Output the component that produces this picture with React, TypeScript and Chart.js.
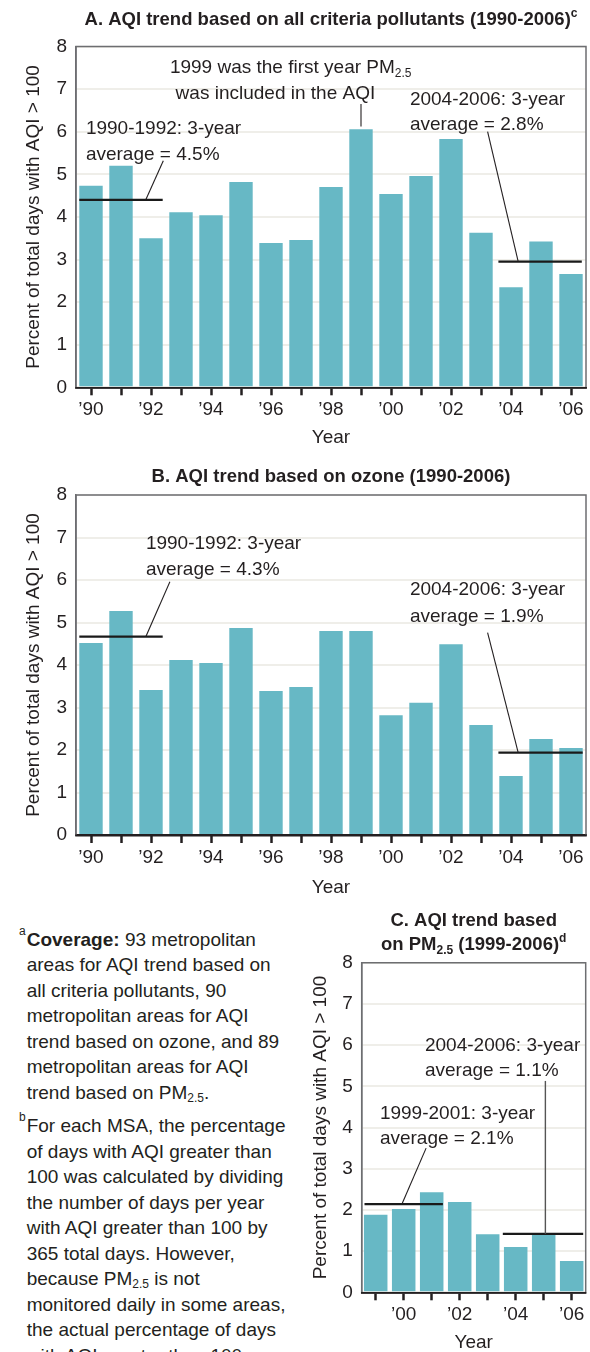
import React, { useEffect, useRef } from 'react';
import { Chart, registerables } from 'chart.js';

Chart.register(...registerables);

const FAMILY = "'Liberation Sans', Arial, Helvetica, sans-serif";
const TEXT = '#231f20';
const BAR = '#67b8c5';
const GRID = '#efeee9';
const FRAME = '#6d6e71';
const FS = 19;
const LS = 0;
const TFS = 18.5;
const TLS = 0;

// ---------- Chart A: all criteria pollutants ----------
const yearsA = ['1990', '1991', '1992', '1993', '1994', '1995', '1996', '1997', '1998', '1999', '2000', '2001', '2002', '2003', '2004', '2005', '2006'];
const xTicksA = ['’90', '', '’92', '', '’94', '', '’96', '', '’98', '', '’00', '', '’02', '', '’04', '', '’06'];
const valuesA = [4.73, 5.2, 3.5, 4.11, 4.04, 4.82, 3.39, 3.46, 4.7, 6.06, 4.54, 4.96, 5.83, 3.63, 2.35, 3.42, 2.66];
const avgA = [
  { from: -0.39, to: 2.39, value: 4.4 },
  { from: 13.58, to: 16.36, value: 2.95 },
];
const textsA = [
  { s: '1990-1992: 3-year', x: -0.17, y: 6.06 },
  { s: 'average = 4.5%', x: -0.17, y: 5.47 },
  { s: '1999 was the first year PM_{2.5}', x: 2.63, y: 7.49 },
  { s: 'was included in the AQI', x: 2.82, y: 6.9 },
  { s: '2004-2006: 3-year', x: 10.63, y: 6.76 },
  { s: 'average = 2.8%', x: 10.63, y: 6.16 },
];
const leadersA = [
  { x1: 2.41, y1: 5.32, x2: 1.83, y2: 4.41 },
  { x1: 9, y1: 6.65, x2: 9, y2: 6.12 },
  { x1: 13.22, y1: 6.0, x2: 14.24, y2: 2.95 },
];
const titleA = 'A. AQI trend based on all criteria pollutants (1990-2006)^{c}';

// ---------- Chart B: ozone ----------
const valuesB = [4.52, 5.27, 3.41, 4.12, 4.05, 4.87, 3.39, 3.48, 4.8, 4.8, 2.82, 3.11, 4.49, 2.59, 1.39, 2.26, 2.05];
const avgB = [
  { from: -0.39, to: 2.39, value: 4.67 },
  { from: 13.58, to: 16.39, value: 1.94 },
];
const textsB = [
  { s: '1990-1992: 3-year', x: 1.83, y: 6.86 },
  { s: 'average = 4.3%', x: 1.83, y: 6.25 },
  { s: '2004-2006: 3-year', x: 10.63, y: 5.76 },
  { s: 'average = 1.9%', x: 10.63, y: 5.14 },
];
const leadersB = [
  { x1: 2.63, y1: 5.96, x2: 1.83, y2: 4.67 },
  { x1: 13.22, y1: 4.76, x2: 14.24, y2: 1.94 },
];
const titleB = 'B. AQI trend based on ozone (1990-2006)';

// ---------- Chart C: PM2.5 ----------
const yearsC = ['1999', '2000', '2001', '2002', '2003', '2004', '2005', '2006'];
const xTicksC = ['', '’00', '', '’02', '', '’04', '', '’06'];
const valuesC = [1.88, 2.02, 2.43, 2.19, 1.41, 1.1, 1.41, 0.76];
const avgC = [
  { from: -0.4, to: 2.4, value: 2.14 },
  { from: 4.54, to: 7.41, value: 1.42 },
];
const textsC = [
  { s: '2004-2006: 3-year', x: 1.76, y: 5.99 },
  { s: 'average = 1.1%', x: 1.76, y: 5.38 },
  { s: '1999-2001: 3-year', x: 0.15, y: 4.34 },
  { s: 'average = 2.1%', x: 0.15, y: 3.72 },
];
const leadersC = [
  { x1: 1.8, y1: 3.5, x2: 0.95, y2: 2.16 },
  { x1: 6.06, y1: 5.13, x2: 6.06, y2: 1.42, color: '#555555', width: 1.4 },
];
const titleC1 = 'C. AQI trend based';
const titleC2 = 'on PM_{2.5} (1999-2006)^{d}';

const Y_TITLE = 'Percent of total days with AQI > 100';
const X_TITLE = 'Year';

// ---------- footnotes ----------
const noteA = [
  '**Coverage:** 93 metropolitan',
  'areas for AQI trend based on',
  'all criteria pollutants, 90',
  'metropolitan areas for AQI',
  'trend based on ozone, and 89',
  'metropolitan areas for AQI',
  'trend based on PM_{2.5}.',
];
const noteB = [
  'For each MSA, the percentage',
  'of days with AQI greater than',
  '100 was calculated by dividing',
  'the number of days per year',
  'with AQI greater than 100 by',
  '365 total days. However,',
  'because PM_{2.5} is not',
  'monitored daily in some areas,',
  'the actual percentage of days',
  'with AQI greater than 100',
];

type Seg = { t: string; k: string };
function parseRich(s: string): Seg[] {
  const out: Seg[] = [];
  const re = /([_^])\{([^}]*)\}/g;
  let last = 0;
  let m: RegExpExecArray | null;
  while ((m = re.exec(s))) {
    if (m.index > last) out.push({ t: s.slice(last, m.index), k: '' });
    out.push({ t: m[2], k: m[1] });
    last = re.lastIndex;
  }
  if (last < s.length) out.push({ t: s.slice(last), k: '' });
  return out;
}

function drawRich(ctx: any, s: string, x: number, y: number, align: string, size: number, bold: boolean, ls: number) {
  const segs = parseRich(s);
  const fontFor = (k: string) => `${bold ? 'bold ' : ''}${k ? Math.round(size * 0.64) : size}px ${FAMILY}`;
  ctx.letterSpacing = ls + 'px';
  let w = 0;
  const ws = segs.map((sg) => {
    ctx.font = fontFor(sg.k);
    const m = ctx.measureText(sg.t).width;
    w += m;
    return m;
  });
  let cx = align === 'center' ? x - w / 2 : align === 'right' ? x - w : x;
  ctx.textAlign = 'left';
  ctx.textBaseline = 'middle';
  ctx.fillStyle = TEXT;
  segs.forEach((sg, i) => {
    ctx.font = fontFor(sg.k);
    const dy = sg.k === '_' ? size * 0.3 : sg.k === '^' ? -size * 0.33 : 0;
    ctx.fillText(sg.t, cx, y + dy);
    cx += ws[i];
  });
}

function overlay(ann: any) {
  return {
    id: 'overlay',
    beforeDraw(chart: any) {
      chart.ctx.letterSpacing = LS + 'px';
    },
    afterDatasetsDraw(chart: any) {
      const { ctx, chartArea: a } = chart;
      const xs = chart.scales.x;
      const ys = chart.scales.y;
      ctx.save();
      // frame
      ctx.lineWidth = 1.5;
      ctx.strokeStyle = FRAME;
      ctx.beginPath();
      ctx.moveTo(a.left, a.bottom);
      ctx.lineTo(a.left, a.top);
      ctx.lineTo(a.right, a.top);
      ctx.lineTo(a.right, a.bottom);
      ctx.stroke();
      ctx.strokeStyle = TEXT;
      ctx.lineWidth = 1.8;
      ctx.beginPath();
      ctx.moveTo(a.left - 0.75, a.bottom + 0.5);
      ctx.lineTo(a.right + 0.75, a.bottom + 0.5);
      ctx.stroke();
      // average lines
      ctx.strokeStyle = '#1a1a1a';
      ctx.lineWidth = 2.2;
      ann.avgs.forEach((g: any) => {
        const py = ys.getPixelForValue(g.value);
        ctx.beginPath();
        ctx.moveTo(xs.getPixelForValue(g.from), py);
        ctx.lineTo(xs.getPixelForValue(g.to), py);
        ctx.stroke();
      });
      // leader lines
      ann.leaders.forEach((l: any) => {
        ctx.strokeStyle = l.color || '#231f20';
        ctx.lineWidth = l.width || 1.1;
        ctx.beginPath();
        ctx.moveTo(xs.getPixelForValue(l.x1), ys.getPixelForValue(l.y1));
        ctx.lineTo(xs.getPixelForValue(l.x2), ys.getPixelForValue(l.y2));
        ctx.stroke();
      });
      // annotation texts
      ann.texts.forEach((t: any) => {
        drawRich(ctx, t.s, xs.getPixelForValue(t.x), ys.getPixelForValue(t.y), 'left', FS, false, LS);
      });
      // titles
      const cx = (a.left + a.right) / 2;
      ann.titles.forEach((t: any) => drawRich(ctx, t.s, cx, t.y, 'center', TFS, true, TLS));
      ctx.restore();
      ctx.letterSpacing = LS + 'px';
    },
  };
}

function makeConfig(p: any): any {
  const font = { family: FAMILY, size: FS };
  return {
    type: 'bar',
    data: {
      labels: p.labels,
      datasets: [
        {
          data: p.values,
          backgroundColor: BAR,
          borderWidth: 0,
          barPercentage: p.barPct,
          categoryPercentage: 1,
        },
      ],
    },
    options: {
      responsive: false,
      animation: false,
      devicePixelRatio: 1,
      events: [],
      layout: { padding: { top: p.padTop, right: p.padRight, bottom: 0, left: 0 } },
      plugins: { legend: { display: false }, tooltip: { enabled: false }, title: { display: false } },
      scales: {
        x: {
          type: 'category',
          offset: true,
          grid: { offset: false, drawOnChartArea: false, drawTicks: true, tickLength: 8, tickWidth: 2.5, tickColor: TEXT },
          border: { display: true, color: TEXT, width: 1.5 },
          ticks: {
            autoSkip: false,
            maxRotation: 0,
            minRotation: 0,
            padding: 3.3,
            color: TEXT,
            font,
            callback: (_v: any, i: number) => p.ticks[i],
          },
          title: { display: true, text: X_TITLE, color: TEXT, font, padding: { top: 0, bottom: p.xTitlePad } },
          afterFit: (s: any) => {
            s.height = p.xHeight;
          },
        },
        y: {
          min: 0,
          max: 8,
          ticks: { stepSize: 1, padding: 9, color: TEXT, font },
          grid: { color: GRID, lineWidth: 2, drawTicks: false },
          border: { display: true, color: FRAME, width: 1.5 },
          title: { display: true, text: Y_TITLE, color: TEXT, font, padding: { top: p.yTitlePad, bottom: 0 } },
          afterFit: (s: any) => {
            s.width = p.yWidth;
          },
        },
      },
    },
    plugins: [overlay(p.ann)],
  };
}

function RichLine({ s }: { s: string }) {
  const parts = s.split(/(\*\*[^*]+\*\*|_\{[^}]+\})/).filter(Boolean);
  return (
    <div style={{ whiteSpace: 'nowrap', height: 25.5 }}>
      {parts.map((q, i) =>
        q.startsWith('**') ? (
          <b key={i}>{q.slice(2, -2)}</b>
        ) : q.startsWith('_{') ? (
          <span key={i} style={{ fontSize: 12, lineHeight: '0px', position: 'relative', top: 3 }}>
            {q.slice(2, -1)}
          </span>
        ) : (
          <span key={i}>{q}</span>
        )
      )}
    </div>
  );
}

function Note({ mark, lines, top }: { mark: string; lines: string[]; top: number }) {
  return (
    <div
      style={{
        position: 'absolute',
        left: 26.7,
        top,
        fontFamily: FAMILY,
        fontSize: FS,
        lineHeight: '25.5px',
        letterSpacing: LS + 'px',
        color: TEXT,
      }}
    >
      <span style={{ position: 'absolute', left: -7.7, top: -2, fontSize: 12, lineHeight: '12px', letterSpacing: 0 }}>{mark}</span>
      {lines.map((l, i) => (
        <RichLine key={i} s={l} />
      ))}
    </div>
  );
}

export default function App() {
  const refA = useRef<HTMLCanvasElement>(null);
  const refB = useRef<HTMLCanvasElement>(null);
  const refC = useRef<HTMLCanvasElement>(null);

  useEffect(() => {
    Chart.defaults.font.family = FAMILY;
    const charts: Chart[] = [];
    charts.push(
      new Chart(
        refA.current as HTMLCanvasElement,
        makeConfig({
          labels: yearsA,
          ticks: xTicksA,
          values: valuesA,
          barPct: 0.78,
          padTop: 46.5,
          padRight: 4,
          yWidth: 76,
          xHeight: 62.7,
          yTitlePad: 22.5,
          xTitlePad: 0.6,
          ann: { avgs: avgA, texts: textsA, leaders: leadersA, titles: [{ s: titleA, y: 20 }] },
        })
      )
    );
    charts.push(
      new Chart(
        refB.current as HTMLCanvasElement,
        makeConfig({
          labels: yearsA,
          ticks: xTicksA,
          values: valuesB,
          barPct: 0.78,
          padTop: 45,
          padRight: 4,
          yWidth: 76,
          xHeight: 65,
          yTitlePad: 22.5,
          xTitlePad: 0.6,
          ann: { avgs: avgB, texts: textsB, leaders: leadersB, titles: [{ s: titleB, y: 26.7 }] },
        })
      )
    );
    charts.push(
      new Chart(
        refC.current as HTMLCanvasElement,
        makeConfig({
          labels: yearsC,
          ticks: xTicksC,
          values: valuesC,
          barPct: 0.84,
          padTop: 62.7,
          padRight: 4.3,
          yWidth: 61.7,
          xHeight: 67.7,
          yTitlePad: 9.3,
          xTitlePad: 5.6,
          ann: {
            avgs: avgC,
            texts: textsC,
            leaders: leadersC,
            titles: [
              { s: titleC1, y: 21 },
              { s: titleC2, y: 45 },
            ],
          },
        })
      )
    );
    return () => charts.forEach((c) => c.destroy());
  }, []);

  return (
    <div
      style={{
        position: 'absolute',
        left: 0,
        top: 0,
        width: 590,
        height: 1352,
        overflow: 'hidden',
        background: '#ffffff',
      }}
    >
      <canvas ref={refA} width={590} height={450} style={{ position: 'absolute', left: 0, top: 0 }} />
      <canvas ref={refB} width={590} height={450} style={{ position: 'absolute', left: 0, top: 450 }} />
      <canvas ref={refC} width={290} height={460} style={{ position: 'absolute', left: 300, top: 900 }} />
      <Note mark="a" lines={noteA} top={926.5} />
      <Note mark="b" lines={noteB} top={1113.25} />
    </div>
  );
}
